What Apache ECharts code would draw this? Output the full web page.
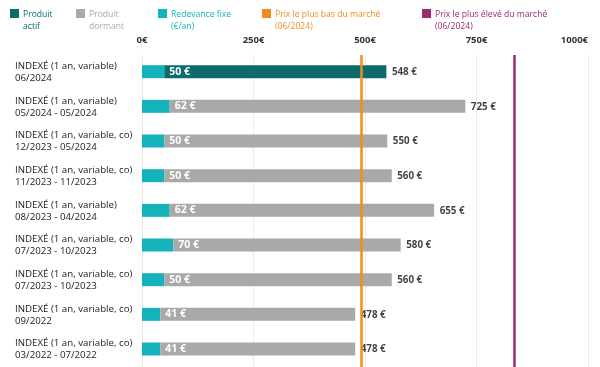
<!DOCTYPE html>
<html><head><meta charset="utf-8">
<script src="https://cdn.jsdelivr.net/npm/echarts@6/dist/echarts.min.js"></script>
<style>html,body{margin:0;padding:0;background:#fff;overflow:hidden}#c{width:600px;height:367px;display:block}</style>
</head><body><div id="c"></div>
<script>
const categories = [
  "INDEXÉ (1 an, variable)\n06/2024",
  "INDEXÉ (1 an, variable)\n05/2024 - 05/2024",
  "INDEXÉ (1 an, variable, co)\n12/2023 - 05/2024",
  "INDEXÉ (1 an, variable, co)\n11/2023 - 11/2023",
  "INDEXÉ (1 an, variable)\n08/2023 - 04/2024",
  "INDEXÉ (1 an, variable, co)\n07/2023 - 10/2023",
  "INDEXÉ (1 an, variable, co)\n07/2023 - 10/2023",
  "INDEXÉ (1 an, variable, co)\n09/2022",
  "INDEXÉ (1 an, variable, co)\n03/2022 - 07/2022"
];
const fees = [50, 62, 50, 50, 62, 70, 50, 41, 41];
const totals = [548, 725, 550, 560, 655, 580, 560, 478, 478];
const activeFlags = [true, false, false, false, false, false, false, false, false];
const lowestPrice = 491;
const highestPrice = 834;
const xTicks = [0, 250, 500, 750, 1000];

const C = {active:'#0b6b6e', dormant:'#a9a9a9', fee:'#14b3bb', low:'#f28c1e', high:'#9c2a6f'};
const FONT = 'Open Sans';

const activeData = totals.map((t,i)=> activeFlags[i] ? t - fees[i] : '-');
const dormantData = totals.map((t,i)=> activeFlags[i] ? '-' : t - fees[i]);

const feeLabel = {
  show:true, position:'insideLeft', distance:5,
  color:'#fff', fontWeight:'bold', fontSize:10.5, fontFamily:FONT,
  formatter: p => fees[p.dataIndex] + ' €'
};

const ICON = 'path://M0,0H9V9H0Z M0,23.99H0.01V24H0Z';
function legend(name, left, color){
  return {
    data:[name], left:left, top:9, padding:0, itemWidth:9, itemHeight:24, itemGap:0,
    icon:ICON, selectedMode:false,
    textStyle:{color:color, fontSize:8.6, fontFamily:FONT, lineHeight:12, padding:[0,0,0,-1]}
  };
}

const chart = echarts.init(document.getElementById('c'), null, {renderer:'canvas'});
chart.setOption({
  animation:false,
  legend:[
    legend('Produit\nactif', 10, C.active),
    legend('Produit\ndormant', 76, C.dormant),
    legend('Redevance fixe\n(€/an)', 158, C.fee),
    legend('Prix le plus bas du marché\n(06/2024)', 262, C.low),
    legend('Prix le plus élevé du marché\n(06/2024)', 422, C.high)
  ],
  grid:{left:142, right:12, top:55, height:316, containLabel:false},
  xAxis:{
    type:'value', min:0, max:1000, interval:250, position:'top',
    axisLine:{show:false}, axisTick:{show:false},
    splitLine:{lineStyle:{color:'#ececec', width:1}},
    axisLabel:{formatter: v => v + '€', color:'#333', fontWeight:'bold', fontSize:9.5, fontFamily:FONT, margin:10, alignMaxLabel:'right'}
  },
  yAxis:{
    type:'category', data:categories, inverse:true,
    axisLine:{show:false}, axisTick:{show:false},
    axisLabel:{align:'left', margin:127, color:'#222', fontSize:9.7, fontFamily:FONT, lineHeight:12}
  },
  series:[
    {
      name:'Redevance fixe\n(€/an)', type:'bar', stack:'s', barWidth:13,
      data:fees, itemStyle:{color:C.fee},
      markLine:{
        silent:true, symbol:'none', label:{show:false},
        data:[
          {xAxis:lowestPrice, lineStyle:{color:C.low, width:2.5, type:'solid'}},
          {xAxis:highestPrice, lineStyle:{color:C.high, width:2.5, type:'solid'}}
        ]
      }
    },
    {
      name:'Produit\nactif', type:'bar', stack:'s', barWidth:13,
      data:activeData, itemStyle:{color:C.active}, label:feeLabel
    },
    {
      name:'Produit\ndormant', type:'bar', stack:'s', barWidth:13,
      data:dormantData, itemStyle:{color:C.dormant}, label:feeLabel
    },
    {
      name:'total', type:'scatter', symbolSize:1, itemStyle:{color:'rgba(0,0,0,0)'},
      data: totals.map((t,i)=>[t,i]),
      label:{show:true, position:'right', distance:5, color:'#111', fontWeight:'bold', fontSize:9.8, fontFamily:FONT,
        formatter: p => totals[p.dataIndex] + ' €'}
    },
    {name:'Prix le plus bas du marché\n(06/2024)', type:'bar', data:[], itemStyle:{color:C.low}},
    {name:'Prix le plus élevé du marché\n(06/2024)', type:'bar', data:[], itemStyle:{color:C.high}}
  ]
});
</script></body></html>
